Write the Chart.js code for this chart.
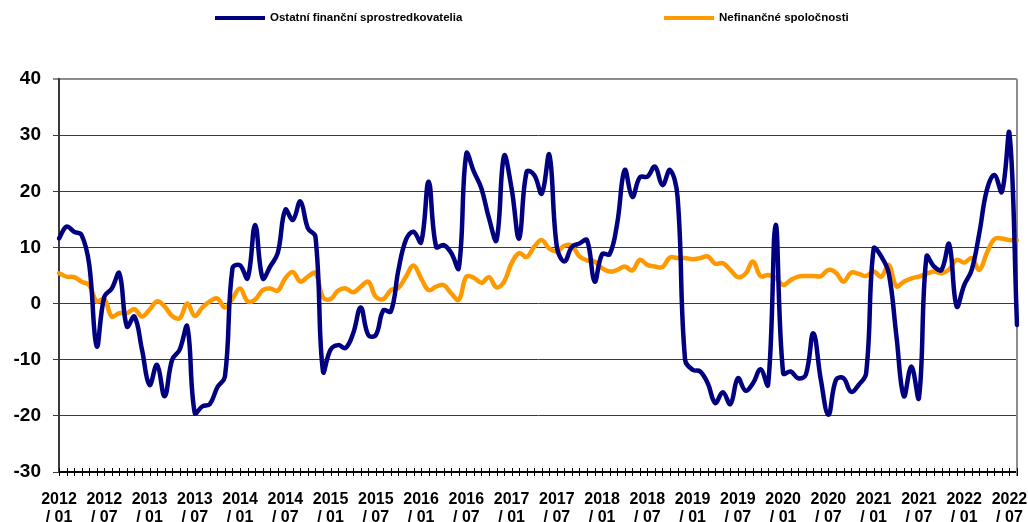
<!DOCTYPE html>
<html>
<head>
<meta charset="utf-8">
<script src="https://cdn.jsdelivr.net/npm/chart.js@4"></script>
<style>
  html, body { margin: 0; padding: 0; background: #fff; }
</style>
</head>
<body>
<canvas id="chart" width="1028" height="522"></canvas>
<script>
// monthly labels 2012/01 .. 2022/08
const startYear = 2012;
const monthCount = 128;
const months = [];
for (let i = 0; i < monthCount; i++) {
  const y = startYear + Math.floor(i / 12);
  const m = String(i % 12 + 1).padStart(2, '0');
  months.push(y + ' / ' + m);
}

const seriesNames = ['Ostatní finanční sprostredkovatelia', 'Nefinančné spoločnosti'];
const seriesColors = ['#000080', '#ff9900'];

// Ostatní finanční sprostredkovatelia
const ofi = [
  11.6, 13.7, 12.8, 12.2, 7.0, -7.6, 1.2, 2.7, 5.4, -4.1, -2.3, -8.2,
  -14.5, -10.9, -16.5, -10.0, -8.2, -4.1, -19.5, -18.3, -17.9, -14.9, -13.0, 6.3,
  6.8, 4.5, 14.0, 4.5, 6.6, 9.0, 16.7, 14.9, 18.2, 13.4, 11.9, -12.1,
  -8.2, -7.4, -7.9, -5.3, -0.7, -5.6, -5.6, -1.2, -1.4, 6.0, 11.4, 12.8,
  10.9, 21.7, 10.1, 10.4, 9.0, 6.3, 26.7, 23.5, 20.5, 15.2, 11.3, 26.3,
  20.5, 11.6, 23.5, 22.9, 19.6, 26.5, 10.1, 7.5, 10.1, 10.7, 11.3, 3.9,
  8.8, 8.8, 14.3, 23.8, 19.0, 22.5, 22.6, 24.4, 21.1, 23.8, 19.0, -10.0,
  -11.8, -12.1, -14.2, -17.7, -15.8, -17.9, -13.3, -15.5, -14.2, -11.7, -14.5, 14.0,
  -12.4, -12.1, -13.3, -12.7, -5.3, -13.6, -19.8, -13.6, -13.3, -15.7, -14.5, -12.4,
  9.8, 8.4, 5.4, -5.6, -16.5, -11.2, -16.8, 8.4, 6.6, 6.0, 10.6, -0.5,
  3.3, 6.0, 12.5, 20.2, 22.9, 19.9, 30.3, -3.8
];

// Nefinančné spoločnosti
const nfc = [
  5.4, 4.8, 4.7, 3.9, 3.3, 0.4, 0.8, -2.3, -1.7, -1.7, -1.0, -2.3,
  -1.1, 0.4, -0.5, -2.2, -2.6, 0.0, -2.2, -0.7, 0.4, 0.9, -0.7, 0.9,
  2.7, 0.4, 0.7, 2.4, 2.7, 2.3, 4.5, 5.6, 3.9, 4.8, 5.4, 1.1,
  0.8, 2.3, 2.7, 2.0, 3.0, 3.9, 1.2, 0.8, 2.4, 2.8, 4.8, 6.8,
  4.5, 2.4, 3.0, 3.3, 1.8, 0.7, 4.8, 4.6, 3.7, 4.7, 2.9, 3.9,
  7.2, 9.0, 8.3, 10.1, 11.3, 9.8, 9.3, 10.3, 10.3, 8.4, 7.7, 7.5,
  6.3, 5.7, 6.0, 6.6, 5.9, 7.8, 6.9, 6.6, 6.5, 8.2, 8.1, 8.1,
  7.9, 8.1, 8.4, 7.1, 7.2, 6.0, 4.7, 5.3, 7.5, 4.9, 5.1, 4.6,
  3.3, 4.2, 4.8, 4.9, 4.9, 4.9, 6.0, 5.5, 3.9, 5.5, 5.3, 4.9,
  5.7, 4.8, 6.9, 3.1, 3.9, 4.5, 4.8, 5.3, 5.7, 5.4, 6.1, 7.8,
  7.3, 8.1, 6.0, 9.0, 11.5, 11.6, 11.3, 11.3
];

const yTicks = { min: -30, max: 40, step: 10 };
const legendX = [215, 664];
const FONT = '"Liberation Sans", Arial, sans-serif';

// plot frame, month ticks across the axis and the legend
const frame = {
  id: 'frame',
  beforeDatasetsDraw(chart) {
    const { ctx, chartArea: a } = chart;
    ctx.save();
    ctx.strokeStyle = '#8c8c8c';
    ctx.lineWidth = 2;
    ctx.beginPath();
    ctx.moveTo(a.right, a.top);
    ctx.lineTo(a.right, a.bottom + 4);
    ctx.stroke();
    ctx.restore();
  },
  afterDraw(chart) {
    const { ctx, chartArea: a, scales: { x } } = chart;
    ctx.save();
    ctx.strokeStyle = '#000';
    ctx.lineWidth = 1;
    ctx.beginPath();
    months.forEach((_, i) => {
      const px = Math.round(x.getPixelForValue(i)) + 0.5;
      ctx.moveTo(px, a.bottom - 4);
      ctx.lineTo(px, a.bottom + 4);
    });
    ctx.stroke();

    ctx.font = 'bold 11.5px ' + FONT;
    ctx.textBaseline = 'middle';
    chart.data.datasets.forEach((ds, k) => {
      const lx = legendX[k];
      ctx.fillStyle = ds.borderColor;
      ctx.fillRect(lx, 16, 50, 4);
      ctx.fillStyle = '#000';
      ctx.fillText(ds.label, lx + 55, 18);
    });
    ctx.restore();
  }
};

new Chart(document.getElementById('chart'), {
  type: 'line',
  plugins: [frame],
  data: {
    labels: months,
    datasets: [
      { label: seriesNames[0], data: ofi, borderColor: seriesColors[0], borderWidth: 4.5 },
      { label: seriesNames[1], data: nfc, borderColor: seriesColors[1], borderWidth: 4.5 }
    ]
  },
  options: {
    responsive: false,
    animation: false,
    layout: { padding: { top: 79, right: 11, left: 0, bottom: 0 } },
    elements: {
      point: { radius: 0 },
      line: { tension: 0.4, fill: false, borderCapStyle: 'round', borderJoinStyle: 'round' }
    },
    plugins: {
      legend: { display: false },
      tooltip: { enabled: false }
    },
    scales: {
      x: {
        offset: false,
        afterFit(scale) {
          scale.height = 50;
          scale.paddingLeft = 0;
          scale.paddingRight = 0;
        },
        grid: { display: true, drawOnChartArea: false, drawTicks: false },
        border: { color: '#000', width: 2 },
        ticks: {
          autoSkip: false,
          maxRotation: 0,
          minRotation: 0,
          padding: 18,
          color: '#000',
          font: { family: FONT, size: 16, weight: 'bold', lineHeight: 1.15 },
          callback: (v, i) => i % 6 === 0 ? months[i].split(' / ').map((s, j) => j ? '/ ' + s : s) : ''
        }
      },
      y: {
        min: yTicks.min,
        max: yTicks.max,
        afterFit(scale) { scale.width = 59; },
        grid: {
          color: c => c.tick && c.tick.value === yTicks.max ? '#8c8c8c' : '#3a3a3a',
          lineWidth: c => c.tick && c.tick.value === yTicks.max ? 2 : 1,
          tickLength: 6
        },
        border: { color: '#3a3a3a', width: 2 },
        ticks: {
          stepSize: yTicks.step,
          padding: 12,
          color: '#000',
          font: { family: FONT, size: 19, weight: 'bold' }
        }
      }
    }
  }
});
</script>
</body>
</html>
